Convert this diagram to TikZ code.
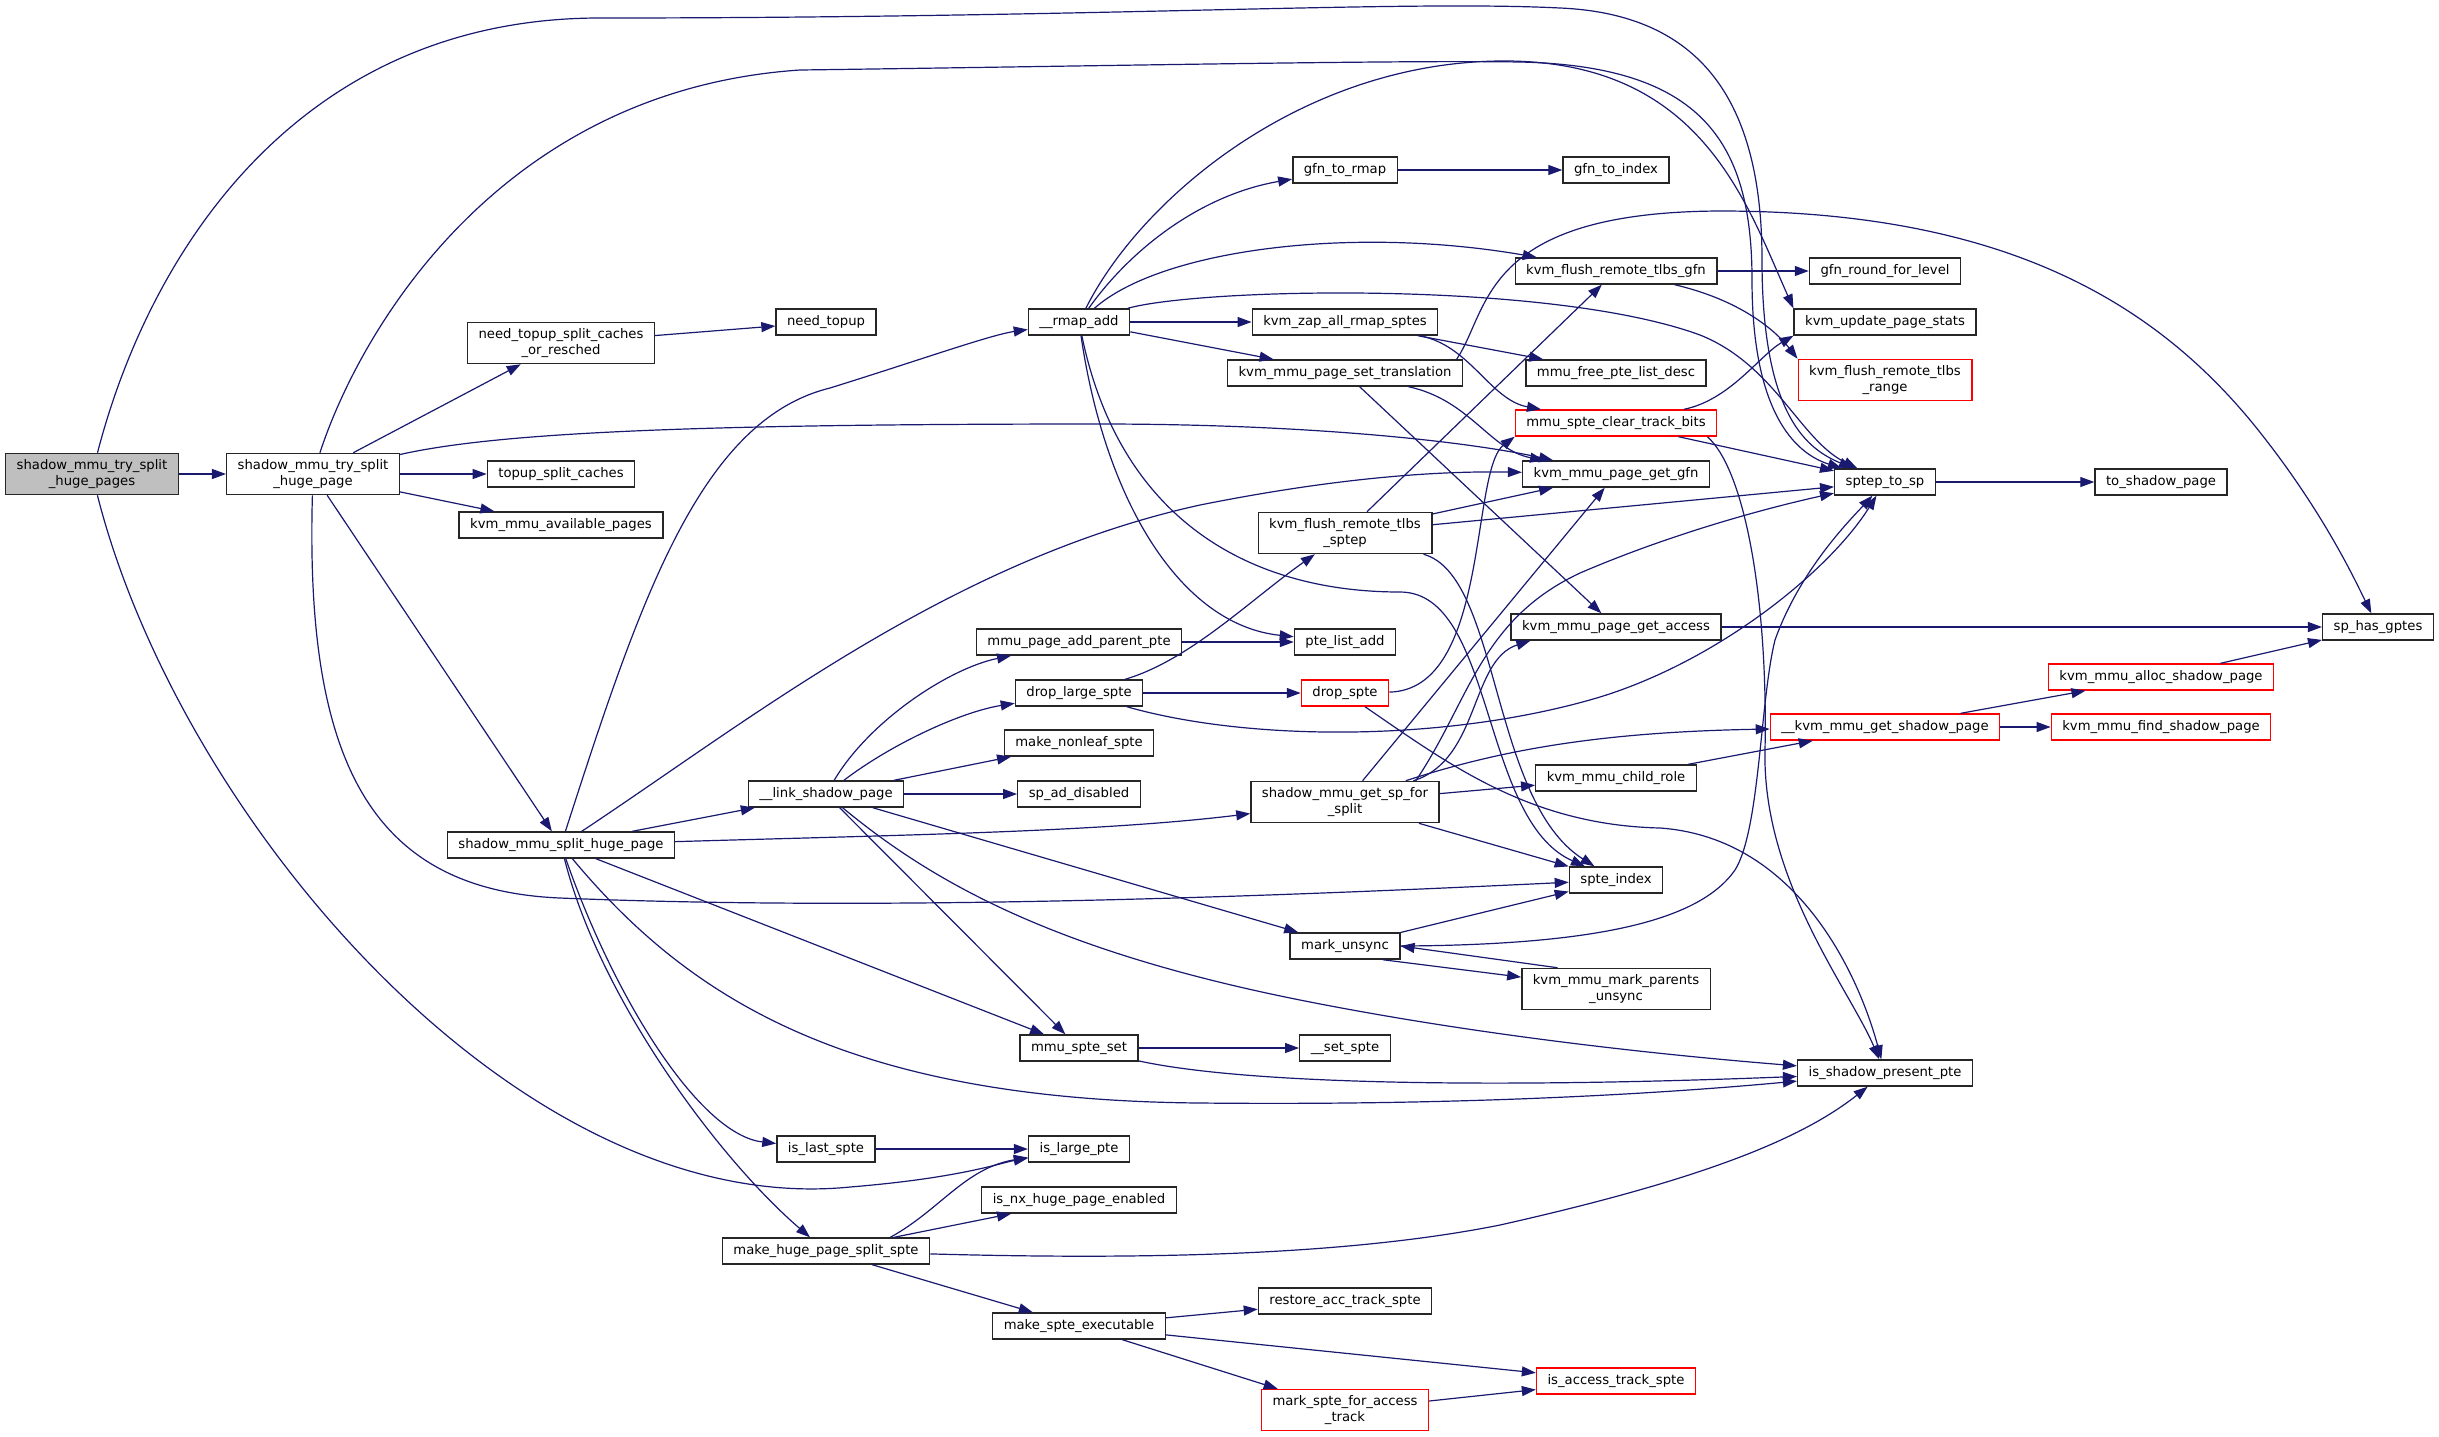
\documentclass[tikz,border=0pt]{standalone}
\usepackage{fontspec}
\setmainfont{DejaVu Sans}
\usetikzlibrary{arrows.meta}
\definecolor{callblue}{HTML}{191970}
\begin{document}
\begin{tikzpicture}[x=0.5pt,y=-0.5pt,
  main node/.style={rectangle,draw=black!85,fill=white,line width=0.7pt,font=\fontsize{6.6}{8}\selectfont,inner xsep=5.5pt,inner ysep=3pt,minimum height=13pt,align=center},
  red node/.style={main node,draw=red},
  start node/.style={main node,fill=black!25},
  call/.style={-{Triangle[length=7pt,width=5pt]},color=callblue,line width=0.6pt}]

  \fill[white] (0,0) rectangle (2439,1436);
  \useasboundingbox (0,0) rectangle (2439,1436);

  \node[start node] at (92,474) (1) {shadow\_mmu\_try\_split\\\_huge\_pages};
  \node[main node] at (313,474) (2) {shadow\_mmu\_try\_split\\\_huge\_page};
  \node[main node] at (561,343) (3) {need\_topup\_split\_caches\\\_or\_resched};
  \node[main node] at (561,474) (4) {topup\_split\_caches};
  \node[main node] at (561,525) (5) {kvm\_mmu\_available\_pages};
  \node[main node] at (561,845) (6) {shadow\_mmu\_split\_huge\_page};
  \node[main node] at (826,322) (7) {need\_topup};
  \node[main node] at (826,794) (8) {\_\_link\_shadow\_page};
  \node[main node] at (826,1149) (9) {is\_last\_spte};
  \node[main node] at (826,1251) (10) {make\_huge\_page\_split\_spte};
  \node[main node] at (1079,322) (11) {\_\_rmap\_add};
  \node[main node] at (1079,642) (12) {mmu\_page\_add\_parent\_pte};
  \node[main node] at (1079,693) (13) {drop\_large\_spte};
  \node[main node] at (1079,743) (14) {make\_nonleaf\_spte};
  \node[main node] at (1079,794) (15) {sp\_ad\_disabled};
  \node[main node] at (1079,1048) (16) {mmu\_spte\_set};
  \node[main node] at (1079,1149) (17) {is\_large\_pte};
  \node[main node] at (1079,1200) (18) {is\_nx\_huge\_page\_enabled};
  \node[main node] at (1079,1326) (19) {make\_spte\_executable};
  \node[main node] at (1345,170) (20) {gfn\_to\_rmap};
  \node[main node] at (1345,322) (21) {kvm\_zap\_all\_rmap\_sptes};
  \node[main node] at (1345,373) (22) {kvm\_mmu\_page\_set\_translation};
  \node[main node] at (1345,533) (23) {kvm\_flush\_remote\_tlbs\\\_sptep};
  \node[main node] at (1345,642) (24) {pte\_list\_add};
  \node[red node] at (1345,693) (25) {drop\_spte};
  \node[main node] at (1345,802) (26) {shadow\_mmu\_get\_sp\_for\\\_split};
  \node[main node] at (1345,946) (27) {mark\_unsync};
  \node[main node] at (1345,1048) (28) {\_\_set\_spte};
  \node[main node] at (1345,1301) (29) {restore\_acc\_track\_spte};
  \node[red node] at (1345,1410) (30) {mark\_spte\_for\_access\\\_track};
  \node[main node] at (1616,170) (31) {gfn\_to\_index};
  \node[main node] at (1616,271) (32) {kvm\_flush\_remote\_tlbs\_gfn};
  \node[main node] at (1616,373) (33) {mmu\_free\_pte\_list\_desc};
  \node[red node] at (1616,423) (34) {mmu\_spte\_clear\_track\_bits};
  \node[main node] at (1616,474) (35) {kvm\_mmu\_page\_get\_gfn};
  \node[main node] at (1616,627) (36) {kvm\_mmu\_page\_get\_access};
  \node[main node] at (1616,778) (37) {kvm\_mmu\_child\_role};
  \node[main node] at (1616,880) (38) {spte\_index};
  \node[main node] at (1616,989) (39) {kvm\_mmu\_mark\_parents\\\_unsync};
  \node[red node] at (1616,1381) (40) {is\_access\_track\_spte};
  \node[main node] at (1885,271) (41) {gfn\_round\_for\_level};
  \node[main node] at (1885,322) (42) {kvm\_update\_page\_stats};
  \node[red node] at (1885,380) (43) {kvm\_flush\_remote\_tlbs\\\_range};
  \node[main node] at (1885,482) (44) {sptep\_to\_sp};
  \node[red node] at (1885,727) (45) {\_\_kvm\_mmu\_get\_shadow\_page};
  \node[main node] at (1885,1073) (46) {is\_shadow\_present\_pte};
  \node[main node] at (2161,482) (47) {to\_shadow\_page};
  \node[red node] at (2161,677) (48) {kvm\_mmu\_alloc\_shadow\_page};
  \node[red node] at (2161,727) (49) {kvm\_mmu\_find\_shadow\_page};
  \node[main node] at (2378,627) (50) {sp\_has\_gptes};

  % straight calls
  \path[call]
  (1) edge (2)
  (2) edge (3)
  (2) edge (4)
  (2) edge (5)
  (2) edge (6)
  (3) edge (7)
  (6) edge (8)
  (6) edge (16)
  (8) edge (14)
  (8) edge (15)
  (8) edge (27)
  (8) edge (16)
  (9) edge (17)
  (10) edge (18)
  (10) edge (19)
  (11) edge (21)
  (11) edge (22)
  (12) edge (24)
  (13) edge (25)
  (16) edge (28)
  (19) edge (29)
  (19) edge (40)
  (19) edge (30)
  (30) edge (40)
  (20) edge (31)
  (21) edge (33)
  (22) edge (36)
  (23) edge (32)
  (23) edge (35)
  (23) edge (44)
  (26) edge (35)
  (26) edge (37)
  (26) edge (38)
  (27) edge (38)
  (27.-20) edge (39)
  (39.160) edge (27.east)
  (37) edge (45)
  (34) edge (44)
  (32) edge (41)
  (36) edge (50)
  (44) edge (47)
  (45) edge (48)
  (45) edge (49)
  (48) edge (50);

  % curved calls
  \draw[call] (1) .. controls (150,250) and (300,18) .. (600,18) .. controls (1100,18) and (1400,0) .. (1560,8) .. controls (1700,14) and (1762,100) .. (1762,260) .. controls (1762,420) and (1810,450) .. (44);
  \draw[call] (1) .. controls (180,820) and (520,1220) .. (850,1187) .. controls (960,1178) and (1000,1163) .. (17);
  \draw[call] (2) .. controls (360,330) and (500,90) .. (800,70) .. controls (1100,66) and (1400,60) .. (1520,62) .. controls (1700,66) and (1752,140) .. (1752,280) .. controls (1752,420) and (1800,455) .. (44);
  \draw[call] (2) .. controls (500,432) and (700,424) .. (1100,424) .. controls (1300,424) and (1460,440) .. (35);
  \draw[call] (2) .. controls (305,760) and (370,890) .. (560,898) .. controls (900,912) and (1300,895) .. (38);
  \draw[call] (6) .. controls (640,600) and (700,420) .. (830,388) .. controls (920,360) and (990,335) .. (11);
  \draw[call] (6) .. controls (750,720) and (950,560) .. (1200,505) .. controls (1350,475) and (1450,471) .. (35);
  \draw[call] (6) .. controls (900,835) and (1100,832) .. (26);
  \draw[call] (6) .. controls (690,1000) and (850,1100) .. (1200,1103) .. controls (1500,1106) and (1700,1090) .. (46);
  \draw[call] (6) .. controls (615,1000) and (700,1135) .. (9);
  \draw[call] (6) .. controls (600,1000) and (720,1160) .. (10);
  \draw[call] (8) .. controls (870,720) and (950,668) .. (12);
  \draw[call] (8) .. controls (890,745) and (960,712) .. (13);
  \draw[call] (8) .. controls (930,880) and (1050,950) .. (1300,1000) .. controls (1500,1040) and (1700,1058) .. (46);
  \draw[call] (11) .. controls (1130,250) and (1200,195) .. (20);
  \draw[call] (11) .. controls (1140,200) and (1300,63) .. (1500,61) .. controls (1700,59) and (1745,200) .. (42.north west);
  \draw[call] (11) .. controls (1160,250) and (1350,225) .. (32);
  \draw[call] (11) .. controls (1200,288) and (1550,280) .. (1700,335) .. controls (1775,365) and (1800,440) .. (44);
  \draw[call] (11) .. controls (1105,500) and (1180,625) .. (24);
  \draw[call] (11) .. controls (1120,520) and (1250,592) .. (1400,592) .. controls (1495,592) and (1480,820) .. (38);
  \draw[call] (13) .. controls (1190,660) and (1250,600) .. (23);
  \draw[call] (13) .. controls (1250,742) and (1450,742) .. (1600,697) .. controls (1720,660) and (1830,570) .. (44);
  \draw[call] (25) .. controls (1490,690) and (1470,470) .. (34.south west);
  \draw[call] (25) .. controls (1450,765) and (1530,825) .. (1660,828) .. controls (1800,838) and (1860,980) .. (46);
  \draw[call] (22.7) .. controls (1490,310) and (1480,212) .. (1720,211) .. controls (2000,211) and (2150,300) .. (2250,420) .. controls (2320,505) and (2355,580) .. (50);
  \draw[call] (22) .. controls (1470,400) and (1490,450) .. (35);
  \draw[call] (21) .. controls (1470,345) and (1490,400) .. (34);
  \draw[call] (23) .. controls (1500,575) and (1490,800) .. (38);
  \draw[call] (26) .. controls (1480,760) and (1470,660) .. ([xshift=10pt]36.south west);
  \draw[call] ([xshift=-12pt]26.north east) .. controls (1470,700) and (1480,620) .. (1580,573) .. controls (1680,530) and (1780,505) .. (44);
  \draw[call] ([xshift=-17pt]26.north east) .. controls (1500,750) and (1600,732) .. (45);
  \draw[call] (27.east) .. controls (1600,945) and (1700,920) .. (1735,870) .. controls (1760,830) and (1760,700) .. (1775,640) .. controls (1800,570) and (1850,520) .. (44);
  \draw[call] (34) .. controls (1730,400) and (1760,355) .. (42.south west);
  \draw[call] ([xshift=-5pt]34.south east) .. controls (1745,470) and (1768,600) .. (1765,750) .. controls (1762,880) and (1850,990) .. (46);
  \draw[call] (32) .. controls (1740,300) and (1775,330) .. (43.north west);
  \draw[call] (16) .. controls (1250,1085) and (1500,1088) .. (46);
  \draw[call] ([xshift=-20pt]10.north east) .. controls (940,1210) and (965,1168) .. (17);
  \draw[call] (10) .. controls (1150,1260) and (1350,1255) .. (1500,1225) .. controls (1700,1180) and (1800,1140) .. (46);
\end{tikzpicture}
\end{document}
